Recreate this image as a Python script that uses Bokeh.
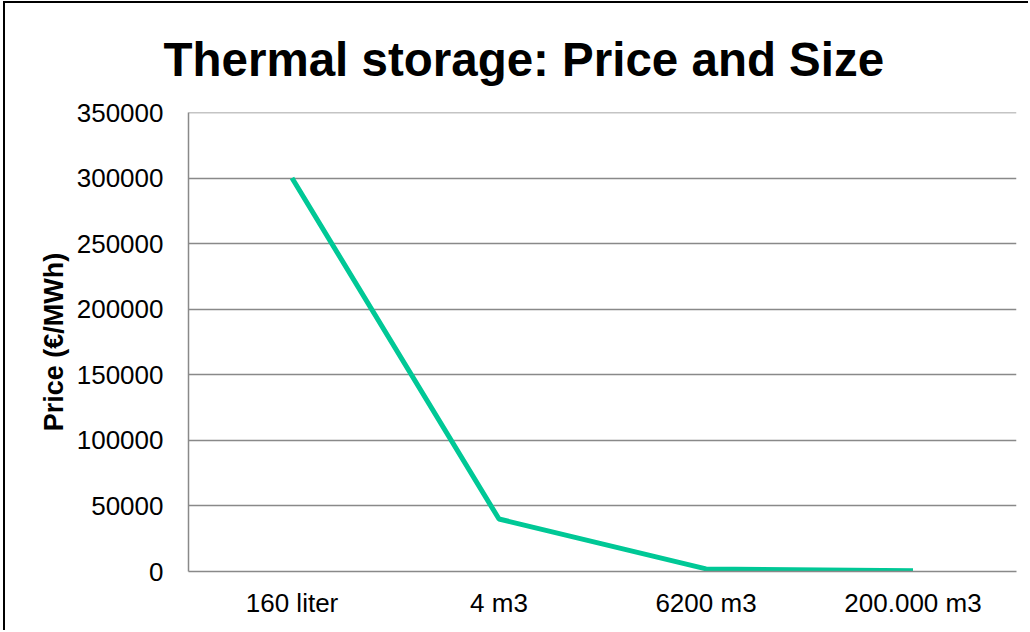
from bokeh.plotting import figure
from bokeh.models import FixedTicker, NumeralTickFormatter, FactorRange, Range1d, Span
from bokeh.embed import file_html
from bokeh.resources import INLINE

categories = ["160 liter", "4 m3", "6200 m3", "200.000 m3"]
price = [300000, 40000, 2000, 500]
y_ticks = [0, 50000, 100000, 150000, 200000, 250000, 300000, 350000]
y_max = 350000

p = figure(width=1025, height=629, x_range=FactorRange(*categories, range_padding=0),
           y_range=Range1d(0, y_max), output_backend="svg", toolbar_location=None,
           min_border_left=183, min_border_right=14, min_border_top=109, min_border_bottom=61)
p.margin = (1, 0, 0, 3)
p.styles = {"border-left": "2px solid black", "border-top": "2px solid black",
            "border-right": "0px none", "border-bottom": "0px none"}

p.title.text = "Thermal storage: Price and Size"
p.title.text_font = "Liberation Sans"
p.title.text_font_size = "47.5px"
p.title.text_font_style = "bold"
p.title.text_color = "black"
p.title.text_line_height = 1.0
p.title.align = "left"
p.title.offset = -25
p.title.standoff = 54

p.line(x=categories, y=price, line_color="#00C896", line_width=5)

p.outline_line_color = None
p.xgrid.grid_line_color = None
p.ygrid.grid_line_color = "#898989"
p.ygrid.grid_line_width = 1.5
p.add_layout(Span(location=y_max, dimension="width", line_color="#898989", line_width=1.5))

p.yaxis.ticker = FixedTicker(ticks=y_ticks)
p.yaxis.formatter = NumeralTickFormatter(format="0")
p.yaxis.axis_label = "Price (€/MWh)"
p.yaxis.axis_label_text_font = "Liberation Sans"
p.yaxis.axis_label_text_font_size = "27px"
p.yaxis.axis_label_text_font_style = "bold"
p.yaxis.axis_label_text_color = "black"
p.yaxis.axis_label_standoff = 5

for ax in (p.xaxis, p.yaxis):
    ax.major_label_text_font = "Liberation Sans"
    ax.major_label_text_font_size = "26px"
    ax.major_label_text_color = "black"
    ax.axis_line_color = "#898989"
    ax.axis_line_width = 1.5
    ax.major_tick_line_color = None
    ax.minor_tick_line_color = None

p.yaxis.major_label_standoff = 19
p.xaxis.major_label_standoff = 10

open("out.html", "w").write(file_html(p, INLINE))
